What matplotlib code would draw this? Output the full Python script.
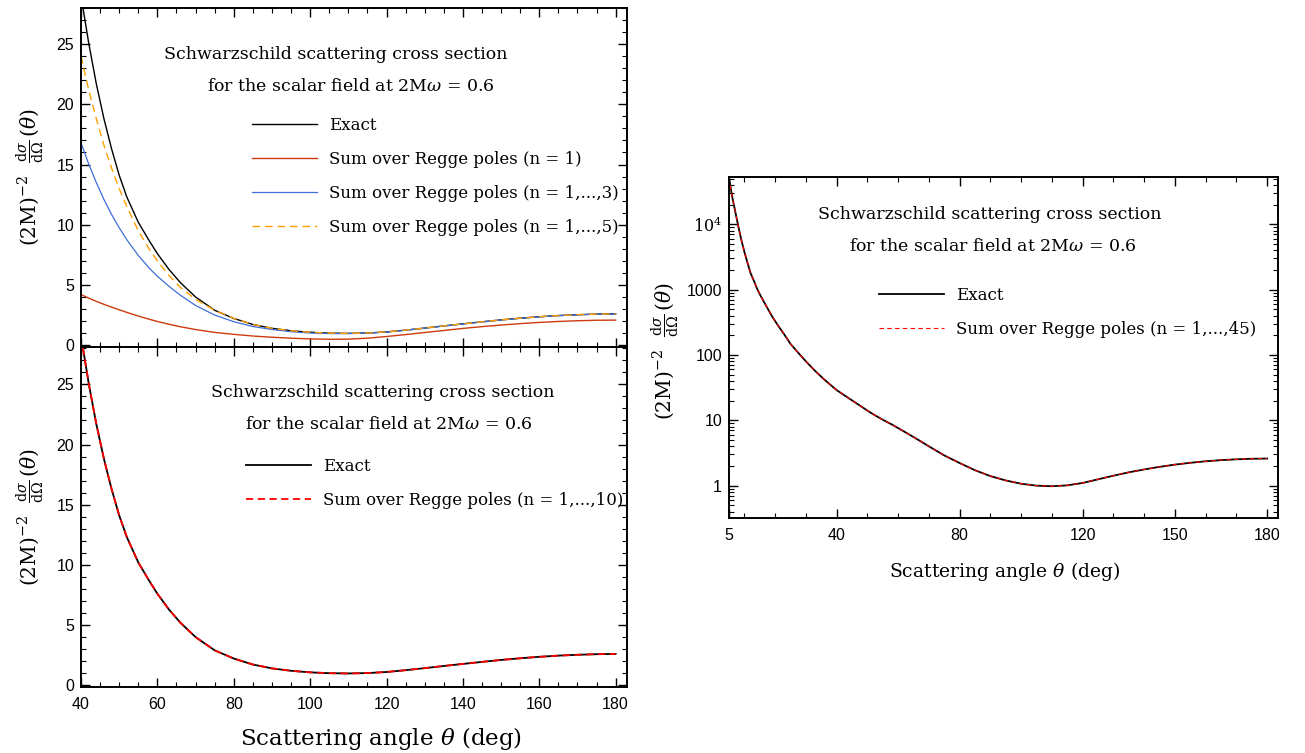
import numpy as np
import matplotlib
matplotlib.use('Agg')
import matplotlib.pyplot as plt
from matplotlib.ticker import MultipleLocator, FixedLocator, LogLocator, NullFormatter

plt.rcParams.update({
    'font.family': 'DejaVu Serif',
    'mathtext.fontset': 'dejavuserif',
    'axes.linewidth': 1.4,
})

# scattering angle (deg) and exact cross section, linear panels (40-180 deg)
theta = [40, 42, 44, 46, 48, 50, 52, 55, 58, 60, 63, 66, 70, 75, 80, 85, 90, 95,
         100, 105, 110, 115, 120, 125, 130, 135, 140, 145, 150, 155, 160, 165,
         170, 175, 180]
exact = [29.0, 25.1, 21.7, 18.8, 16.3, 14.1, 12.3, 10.2, 8.6, 7.6, 6.3, 5.2, 4.0,
         2.9, 2.22, 1.72, 1.4, 1.2, 1.07, 1.0, 0.98, 1.01, 1.1, 1.25, 1.42, 1.6,
         1.77, 1.94, 2.1, 2.24, 2.36, 2.46, 2.53, 2.58, 2.6]
# Regge pole sums
regge_n1 = [4.2, 3.91, 3.64, 3.39, 3.16, 2.94, 2.72, 2.42, 2.14, 1.97, 1.74, 1.53,
            1.3, 1.06, 0.9, 0.76, 0.66, 0.58, 0.52, 0.49, 0.5, 0.58, 0.72, 0.88,
            1.05, 1.22, 1.39, 1.54, 1.67, 1.79, 1.89, 1.97, 2.03, 2.07, 2.08]
regge_n3 = [16.8, 15.05, 13.5, 12.1, 10.85, 9.75, 8.75, 7.45, 6.35, 5.72, 4.9, 4.15,
            3.3, 2.5, 1.95, 1.55, 1.3, 1.12, 1.01, 0.96, 0.96, 1.0, 1.09, 1.24,
            1.41, 1.59, 1.76, 1.93, 2.09, 2.23, 2.35, 2.45, 2.52, 2.57, 2.59]
regge_n5 = [24.0, 21.2, 18.8, 16.6, 14.7, 13.0, 11.5, 9.5, 7.9, 7.0, 5.8, 4.8, 3.8,
            2.9, 2.22, 1.72, 1.4, 1.2, 1.07, 1.0, 0.98, 1.01, 1.1, 1.25, 1.42, 1.6,
            1.77, 1.94, 2.1, 2.24, 2.36, 2.46, 2.53, 2.58, 2.6]
regge_n10 = exact

# log panel (5-180 deg)
theta_log = [5, 6, 7, 8, 9, 10, 11, 12, 13, 14, 15, 17, 19, 21, 23, 25, 27, 30,
             33, 36] + theta
exact_log = [5.2e4, 2.7e4, 1.6e4, 9.5e3, 5.8e3, 3.8e3, 2.6e3, 1.8e3, 1.4e3,
             1.07e3, 850, 575, 390, 280, 205, 148, 115, 80, 57, 42] + exact
regge_n45 = exact_log

ylab = r'$(2\mathrm{M})^{-2}\ \ \frac{\mathrm{d}\sigma}{\mathrm{d}\Omega}\,(\theta)$'
xlab = r'Scattering angle $\theta$ (deg)'
title1 = 'Schwarzschild scattering cross section'
title2 = r'for the scalar field at 2M$\omega$ = 0.6'


def style(ax):
    ax.tick_params(which='both', direction='in', top=True, right=True,
                   labelfontfamily='Liberation Sans', labelsize=11.5)
    ax.tick_params(which='major', length=6.5, width=1.0)
    ax.tick_params(which='minor', length=3.5, width=0.8)
    ax.tick_params(axis='x', pad=7)
    ax.tick_params(axis='y', pad=5)


fig = plt.figure(figsize=(13.05, 7.53), dpi=100)
ax1 = fig.add_axes([0.0621, 0.5392, 0.4184, 0.4502])
ax2 = fig.add_axes([0.0621, 0.0876, 0.4184, 0.4515])
ax3 = fig.add_axes([0.5586, 0.3121, 0.4207, 0.4529])

leg_kw = dict(frameon=False, loc='center left', fontsize=12, handlelength=3.9,
              handletextpad=0.75, labelspacing=1.02, borderpad=0, borderaxespad=0)
tfs = 12.5
yfs = 14.5

# top left
ax1.plot(theta, exact, color='black', lw=1.0, label='Exact')
ax1.plot(theta, regge_n1, color='#cc3a0c', lw=1.0, label='Sum over Regge poles (n = 1)')
ax1.plot(theta, regge_n3, color='#3f6fd8', lw=0.9, label='Sum over Regge poles (n = 1,...,3)')
ax1.plot(theta, regge_n5, color='#ff9f00', lw=1.0, dashes=(5.5, 3.5),
         label='Sum over Regge poles (n = 1,...,5)')
ax1.set_xlim(40, 183)
ax1.set_ylim(-0.15, 28.0)
ax1.xaxis.set_major_locator(MultipleLocator(20))
ax1.xaxis.set_minor_locator(MultipleLocator(5))
ax1.yaxis.set_major_locator(MultipleLocator(5))
ax1.yaxis.set_minor_locator(MultipleLocator(1))
ax1.set_xticklabels([])
ax1.text(0.467, 0.864, title1, transform=ax1.transAxes, ha='center', va='center', fontsize=tfs)
ax1.text(0.4945, 0.767, title2, transform=ax1.transAxes, ha='center', va='center', fontsize=tfs)
ax1.legend(bbox_to_anchor=(0.313, 0.503), **leg_kw)
ax1.set_ylabel(ylab, fontsize=yfs)
ax1.yaxis.set_label_coords(-0.062, 0.5)
style(ax1)

# bottom left
ax2.plot(theta, exact, color='black', lw=1.3, label='Exact')
ax2.plot(theta, regge_n10, color='red', lw=1.3, dashes=(4, 2.5),
         label='Sum over Regge poles (n = 1,...,10)')
ax2.set_xlim(40, 183)
ax2.set_ylim(-0.15, 28.1)
ax2.xaxis.set_major_locator(MultipleLocator(20))
ax2.xaxis.set_minor_locator(MultipleLocator(5))
ax2.yaxis.set_major_locator(MultipleLocator(5))
ax2.yaxis.set_minor_locator(MultipleLocator(1))
ax2.text(0.553, 0.865, title1, transform=ax2.transAxes, ha='center', va='center', fontsize=tfs)
ax2.text(0.5641, 0.771, title2, transform=ax2.transAxes, ha='center', va='center', fontsize=tfs)
ax2.legend(bbox_to_anchor=(0.302, 0.60), **leg_kw)
ax2.set_ylabel(ylab, fontsize=yfs)
ax2.yaxis.set_label_coords(-0.062, 0.5)
ax2.set_xlabel(xlab, fontsize=16.5)
ax2.xaxis.set_label_coords(0.549, -0.112)
style(ax2)

# right, log scale
ax3.plot(theta_log, exact_log, color='black', lw=1.3, label='Exact')
ax3.plot(theta_log, regge_n45, color='red', lw=0.8, dashes=(4, 3),
         label='Sum over Regge poles (n = 1,...,45)')
ax3.set_yscale('log')
ax3.set_xlim(5, 183.5)
ax3.set_ylim(0.32, 5.3e4)
ax3.xaxis.set_major_locator(FixedLocator([5, 40, 80, 120, 150, 180]))
ax3.xaxis.set_minor_locator(MultipleLocator(10))
ax3.yaxis.set_major_locator(FixedLocator([1, 10, 100, 1000, 1e4]))
ax3.set_yticklabels(['1', '10', '100', '1000', r'$10^4$'])
ax3.yaxis.set_minor_locator(LogLocator(base=10, subs=np.arange(2, 10)))
ax3.yaxis.set_minor_formatter(NullFormatter())
ax3.text(0.475, 0.889, title1, transform=ax3.transAxes, ha='center', va='center', fontsize=tfs)
ax3.text(0.481, 0.795, title2, transform=ax3.transAxes, ha='center', va='center', fontsize=tfs)
ax3.legend(bbox_to_anchor=(0.273, 0.604), **leg_kw)
ax3.set_ylabel(ylab, fontsize=yfs)
ax3.yaxis.set_label_coords(-0.085, 0.49)
ax3.set_xlabel(xlab, fontsize=13.5)
ax3.xaxis.set_label_coords(0.503, -0.122)
style(ax3)

fig.savefig('out.png', dpi=100)
